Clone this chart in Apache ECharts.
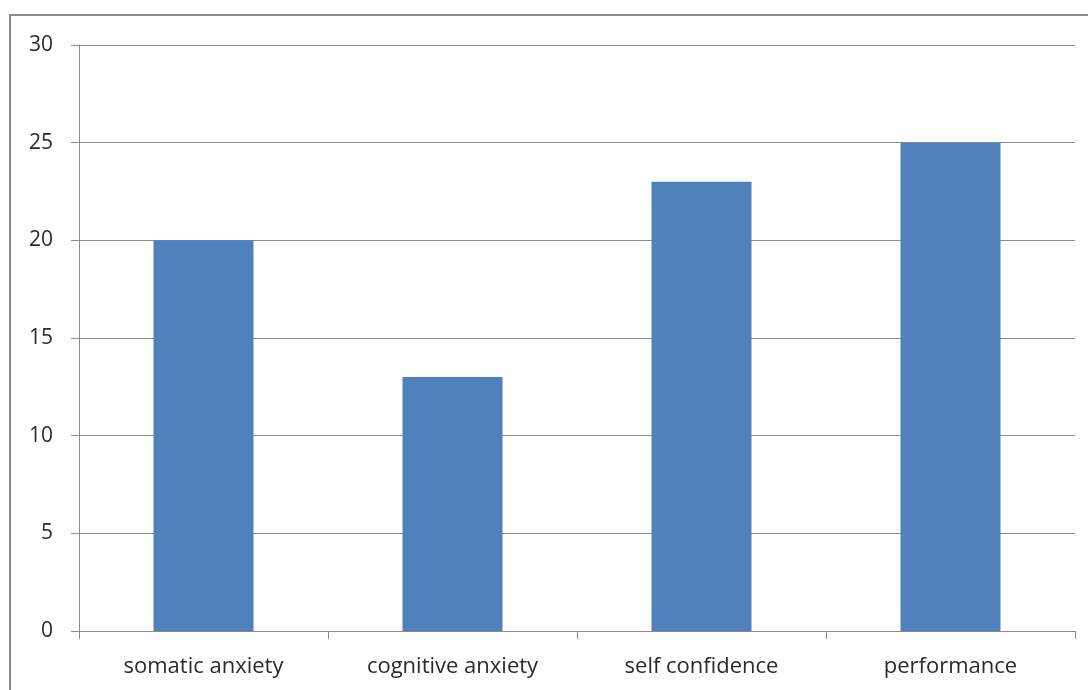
<!DOCTYPE html>
<html><head><meta charset="utf-8">
<script src="https://cdn.jsdelivr.net/npm/echarts@6/dist/echarts.min.js"></script>
<style>html,body{margin:0;padding:0;background:#fff}#c{width:1088px;height:690px}</style>
</head><body><div id="c"></div>
<script>
const categories = ['somatic anxiety', 'cognitive anxiety', 'self confidence', 'performance'];
const values = [20, 13, 23, 25];
const yTicks = [0, 5, 10, 15, 20, 25, 30];

const chart = echarts.init(document.getElementById('c'), null, {renderer: 'canvas'});
chart.setOption({
  animation: false,
  backgroundColor: '#fff',
  graphic: [{
    type: 'rect', shape: {x: 10, y: 15, width: 1100, height: 700},
    style: {fill: 'none', stroke: '#8a8a8a', lineWidth: 2}, z: 100
  }],
  grid: {left: 79, right: 13, top: 45, bottom: 59, containLabel: false},
  xAxis: {
    type: 'category', data: categories,
    axisLine: {lineStyle: {color: '#8c8c8c', width: 1}},
    axisTick: {show: true, length: 8, alignWithLabel: false, lineStyle: {color: '#8c8c8c'}},
    axisLabel: {color: '#2b2b2b', fontFamily: 'Open Sans', fontSize: 22, margin: 25}
  },
  yAxis: {
    type: 'value', min: yTicks[0], max: yTicks[yTicks.length - 1], interval: 5,
    axisLine: {show: true, lineStyle: {color: '#8c8c8c', width: 1}},
    axisTick: {show: true, length: 8, lineStyle: {color: '#8c8c8c'}},
    splitLine: {lineStyle: {color: '#8c8c8c', width: 1}},
    axisLabel: {color: '#2b2b2b', fontFamily: 'Open Sans', fontSize: 21, margin: 26}
  },
  series: [{
    type: 'bar', data: values, barWidth: 100,
    itemStyle: {color: '#4F81BD'}
  }]
});
</script></body></html>
